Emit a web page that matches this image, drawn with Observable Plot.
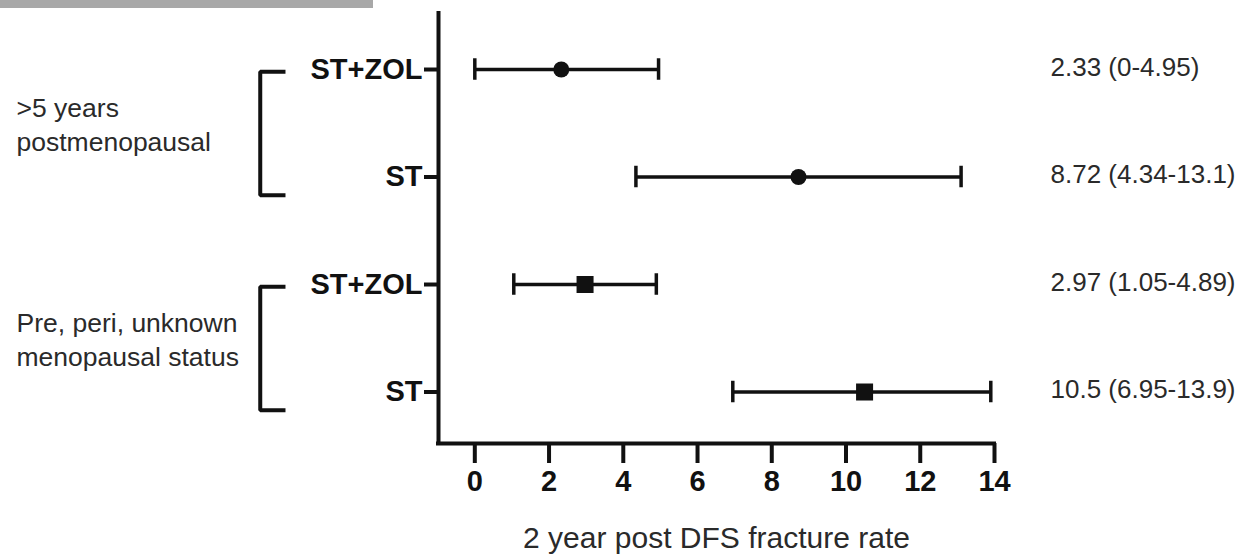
<!DOCTYPE html>
<html><head><meta charset="utf-8">
<script src="https://cdn.jsdelivr.net/npm/d3@7"></script>
<script src="https://cdn.jsdelivr.net/npm/@observablehq/plot@0.6"></script>
<style>
body{margin:0;background:#fff;}
#wrap{position:relative;width:1239px;height:556px;}
#bar{position:absolute;left:0;top:0;width:373px;height:8px;background:#a8a8a8;}
svg text{font-family:"Liberation Sans",Arial,sans-serif;}
</style></head><body><div id="wrap"><div id="bar"></div></div>
<script>
// ---- data ----
const rowLabels = ["ST+ZOL", "ST", "ST+ZOL", "ST"];
const groupLabels = [">5 years\npostmenopausal", "Pre, peri, unknown\nmenopausal status"];
const rowGroup = [0, 0, 1, 1];
const markerShape = ["circle", "square"];
const estimates = [2.33, 8.72, 2.97, 10.5];
const lower = [0, 4.34, 1.05, 6.95];
const upper = [4.95, 13.1, 4.89, 13.9];
const ciText = ["2.33 (0-4.95)", "8.72 (4.34-13.1)", "2.97 (1.05-4.89)", "10.5 (6.95-13.9)"];
const xTicks = [0, 2, 4, 6, 8, 10, 12, 14];
const xTitle = "2 year post DFS fracture rate";

// ---- tables built from the arrays ----
const rows = rowLabels.map((label, i) => ({
  row: i, label, group: rowGroup[i], est: estimates[i], lo: lower[i], hi: upper[i],
  text: ciText[i], shape: markerShape[rowGroup[i]]
}));
const xDomain = [-0.978, 14];
const yDomain = [-0.521, 3.479];
const groups = groupLabels.map((g, k) => {
  const r = rows.filter(d => d.group === k).map(d => d.row);
  return {label: g, mid: d3.mean(r), top: d3.min(r) + 0.02, bottom: d3.max(r) + 0.17};
});
const bracketOuter = -5.78, bracketInner = -5.1;
const bracketPts = groups.flatMap((g, k) => [
  {k, x: bracketInner, y: g.top}, {k, x: bracketOuter, y: g.top},
  {k, x: bracketOuter, y: g.bottom}, {k, x: bracketInner, y: g.bottom}
]);
const capHalf = 0.1;
const ink = "#111";

const chart = Plot.plot({
  width: 1239, height: 556,
  marginLeft: 438, marginRight: 245, marginTop: 13, marginBottom: 113,
  style: {fontFamily: "Liberation Sans, Arial, sans-serif", color: ink, background: "transparent"},
  x: {domain: xDomain},
  y: {domain: yDomain, reverse: true},
  marks: [
    Plot.ruleX([xDomain[0]], {stroke: ink, strokeWidth: 4, strokeLinecap: "square"}),
    Plot.ruleY([yDomain[1]], {stroke: ink, strokeWidth: 4, strokeLinecap: "square"}),
    Plot.axisX({ticks: xTicks, tickSize: 20, tickPadding: 7, fontSize: 29, fontWeight: "bold", strokeWidth: 4, label: null, stroke: ink, fill: ink}),
    Plot.axisY({ticks: [0, 1, 2, 3], tickFormat: i => rowLabels[i], tickSize: 14, tickPadding: 2, fontSize: 29, fontWeight: "bold", strokeWidth: 4, label: null, stroke: ink, fill: ink}),
    // confidence intervals
    Plot.ruleY(rows, {y: "row", x1: "lo", x2: "hi", stroke: ink, strokeWidth: 3.5}),
    Plot.ruleX(rows, {x: "lo", y1: d => d.row - capHalf, y2: d => d.row + capHalf, stroke: ink, strokeWidth: 3.5}),
    Plot.ruleX(rows, {x: "hi", y1: d => d.row - capHalf, y2: d => d.row + capHalf, stroke: ink, strokeWidth: 3.5}),
    // point estimates
    Plot.dot(rows.filter(d => d.shape === "circle"), {x: "est", y: "row", r: 8, symbol: "circle", fill: ink, stroke: "none"}),
    Plot.dot(rows.filter(d => d.shape === "square"), {x: "est", y: "row", r: 9.6, symbol: "square", fill: ink, stroke: "none"}),
    // value labels on the right
    Plot.text(rows, {y: "row", text: "text", frameAnchor: "right", textAnchor: "start", dx: 56, dy: -2, fontSize: 26, fill: "#2a2a2a"}),
    // group brackets and labels
    Plot.line(bracketPts, {x: "x", y: "y", z: "k", stroke: ink, strokeWidth: 4, strokeLinejoin: "miter", strokeLinecap: "butt"}),
    Plot.text(groups, {y: "mid", text: "label", frameAnchor: "left", textAnchor: "start", dx: -422, lineHeight: 1.28, fontSize: 26.5, fill: "#2a2a2a"}),
    // x title
    Plot.text([xTitle], {text: d => d, frameAnchor: "bottom", lineAnchor: "middle", dy: 95, fontSize: 30, fill: "#2a2a2a"})
  ]
});
document.getElementById("wrap").appendChild(chart);
chart.style.position = "absolute";
chart.style.left = "0";
chart.style.top = "0";
</script>
</body></html>
